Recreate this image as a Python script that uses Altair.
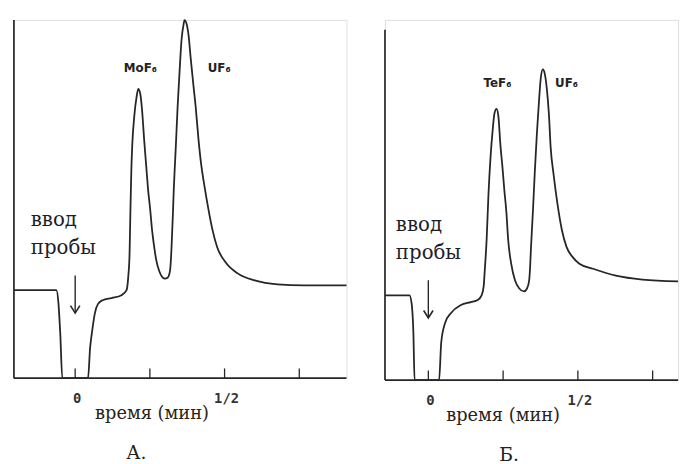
import altair as alt
import pandas as pd

# ---------------- data (time in min, detector signal in arbitrary units) -------------
left_t = [-0.205, -0.063, -0.056, -0.050, -0.043, 0.043, 0.050, 0.056, 0.066, 0.076, 0.092,
          0.122, 0.155, 0.172, 0.178, 0.182, 0.185, 0.188, 0.191, 0.198, 0.205, 0.211, 0.218,
          0.224, 0.231, 0.238, 0.244, 0.251, 0.257, 0.264, 0.271, 0.281, 0.290, 0.300, 0.310,
          0.317, 0.320, 0.323, 0.327, 0.330, 0.333, 0.337, 0.343, 0.350, 0.356, 0.363, 0.366,
          0.373, 0.380, 0.386, 0.396, 0.403, 0.413, 0.422, 0.432, 0.446, 0.459, 0.475, 0.502,
          0.545, 0.601, 0.677, 0.766, 0.898, 0.908]
left_u = [24.5, 24.5, 20.9, 12.6, 0.0, 0.0, 8.5, 12.6, 18.1, 20.6, 21.7,
          22.3, 23.1, 24.5, 28.6, 34.6, 47.0, 58.0, 64.8, 73.1, 78.0, 80.5, 79.1,
          74.5, 66.2, 58.8, 52.5, 47.0, 41.5, 36.8, 33.0, 29.9, 28.3, 27.7, 28.0,
          29.7, 32.4, 37.4, 45.6, 52.5, 58.0, 64.8, 75.8, 86.3, 94.2, 98.6, 99.7,
          98.6, 95.1, 89.6, 81.3, 75.8, 66.2, 59.3, 53.8, 47.0, 41.5, 36.5, 32.4,
          29.1, 27.2, 26.1, 25.8, 25.8, 25.8]

right_t = [-0.145, -0.063, -0.056, -0.050, -0.046, 0.036, 0.043, 0.056, 0.076, 0.109, 0.142,
           0.165, 0.178, 0.185, 0.188, 0.195, 0.201, 0.208, 0.215, 0.221, 0.228, 0.234, 0.241,
           0.248, 0.254, 0.261, 0.267, 0.277, 0.290, 0.304, 0.320, 0.330, 0.337, 0.340, 0.343,
           0.350, 0.356, 0.363, 0.370, 0.376, 0.383, 0.389, 0.396, 0.403, 0.409, 0.419, 0.432,
           0.446, 0.462, 0.482, 0.505, 0.551, 0.627, 0.716, 0.835]
right_u = [23.6, 23.6, 21.4, 13.2, 0.0, 0.0, 10.4, 15.9, 18.7, 20.9, 21.7,
           22.3, 23.6, 26.1, 29.7, 39.3, 51.6, 62.1, 69.5, 74.2, 75.5, 73.6, 65.4,
           59.1, 53.0, 46.7, 39.0, 32.4, 27.7, 25.5, 24.7, 25.5, 27.7, 31.0, 36.5,
           47.5, 58.0, 68.7, 77.7, 84.1, 86.5, 85.4, 81.3, 74.2, 64.8, 57.1, 48.9,
           42.0, 37.1, 34.3, 32.4, 31.0, 29.1, 28.0, 27.5]

tick_positions = [0.0, 0.25, 0.5, 0.75]
tick_label_pos = [0.0, 0.5]
tick_labels = ["0", "1/2"]

peak_labels_left = ["MoF₆", "UF₆"]
peak_label_t_left = [0.218, 0.482]
peak_label_u_left = [86.3, 86.3]
peak_labels_right = ["TeF₆", "UF₆"]
peak_label_t_right = [0.231, 0.462]
peak_label_u_right = [82.7, 82.7]

inject_words = ["ввод", "пробы"]
inject_u_left = [42.3, 34.6]
inject_u_right = [41.5, 33.8]

axis_title = "время (мин)"
panel_names = ["А.", "Б."]

INK = "#262626"
SERIF = "DejaVu Serif"


def panel(t, u, tmin, tmax, ytop, yaxis_top, peak_labels, peak_t, peak_u,
          inject_t, inject_u, title_t, name, name_t, width, height):
    xs = alt.Scale(domain=[tmin, tmax], nice=False, zero=False)
    ys = alt.Scale(domain=[0, ytop], nice=False, zero=False)
    X = lambda f: alt.X(f, type="quantitative", scale=xs, axis=None)
    Y = lambda f: alt.Y(f, type="quantitative", scale=ys, axis=None)

    curve = alt.Chart(pd.DataFrame({"t": t, "u": u})).mark_line(
        color=INK, strokeWidth=1.8, interpolate="monotone"
    ).encode(x=X("t"), y=Y("u"))

    xaxis = alt.Chart(pd.DataFrame({"a": [tmin], "b": [tmax], "y": [0.0]})).mark_rule(
        color=INK, strokeWidth=1.7
    ).encode(x=X("a"), x2="b", y=Y("y"))
    yaxis = alt.Chart(pd.DataFrame({"a": [tmin], "y0": [0.0], "y1": [yaxis_top]})).mark_rule(
        color=INK, strokeWidth=1.7
    ).encode(x=X("a"), y=Y("y0"), y2="y1")

    ticks = alt.Chart(pd.DataFrame({"t": tick_positions, "y0": [0.0] * 4, "y1": [2.7] * 4})).mark_rule(
        color=INK, strokeWidth=1.3
    ).encode(x=X("t"), y=Y("y0"), y2="y1")

    tlabels = alt.Chart(pd.DataFrame({"t": tick_label_pos, "y": [0.0, 0.0], "s": tick_labels})).mark_text(
        font="DejaVu Sans Mono", fontSize=14, fontWeight="bold", color="#333",
        baseline="middle", align="center", dy=21, dx=2
    ).encode(x=X("t"), y=Y("y"), text="s")

    plabels = alt.Chart(pd.DataFrame({"t": peak_t, "y": peak_u, "s": peak_labels})).mark_text(
        font="DejaVu Sans", fontSize=12, fontWeight="bold", color="#222",
        baseline="middle", align="center"
    ).encode(x=X("t"), y=Y("y"), text="s")

    inj = alt.Chart(pd.DataFrame({"t": [inject_t] * 2, "y": inject_u, "s": inject_words})).mark_text(
        font=SERIF, fontSize=20, color="#1e1e2a", baseline="alphabetic", align="left", dx=-2
    ).encode(x=X("t"), y=Y("y"), text="s")

    arrow_top = inject_u[1] - 6.0
    arrow_tip = arrow_top - 10.5
    shaft = alt.Chart(pd.DataFrame({"t": [0.0], "y0": [arrow_top], "y1": [arrow_tip]})).mark_rule(
        color=INK, strokeWidth=1.4
    ).encode(x=X("t"), y=Y("y0"), y2="y1")
    head = alt.Chart(pd.DataFrame({"t": [0.0], "y": [arrow_tip]})).mark_point(
        shape="M-1,-1.6L0,0L1,-1.6", filled=False, color=INK, strokeWidth=1.6, size=90, opacity=1
    ).encode(x=X("t"), y=Y("y"))

    xt = alt.Chart(pd.DataFrame({"t": [title_t], "y": [0.0], "s": [axis_title]})).mark_text(
        font=SERIF, fontSize=18, color="#2a2218", baseline="alphabetic", align="center", dy=41
    ).encode(x=X("t"), y=Y("y"), text="s")

    nm = alt.Chart(pd.DataFrame({"t": [name_t], "y": [0.0], "s": [name]})).mark_text(
        font=SERIF, fontSize=19, color="#222", baseline="alphabetic", align="center", dy=82
    ).encode(x=X("t"), y=Y("y"), text="s")

    return alt.layer(yaxis, xaxis, ticks, curve, shaft, head, plabels, inj, tlabels, xt, nm).properties(
        width=width, height=height
    )


left = panel(left_t, left_u, -0.205, 0.908, 99.73, 99.7,
             peak_labels_left, peak_label_t_left, peak_label_u_left,
             -0.142, inject_u_left, 0.257, panel_names[0], 0.205, 337, 363)
right = panel(right_t, right_u, -0.145, 0.835, 100.27, 97.5,
              peak_labels_right, peak_label_t_right, peak_label_u_right,
              -0.102, inject_u_right, 0.25, panel_names[1], 0.27, 297, 365)

chart = alt.hconcat(left, right, spacing=39, bounds="flush").resolve_scale(
    x="independent", y="independent"
).properties(
    padding={"left": 1, "top": 5, "right": 0, "bottom": 0}
).configure_view(stroke=None).configure(background="white")

chart.save("out.html", embed_options={"renderer": "svg", "actions": False})
